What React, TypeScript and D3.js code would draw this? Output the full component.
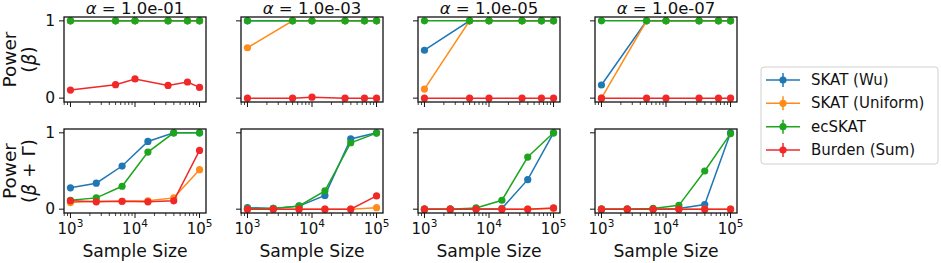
import React from "react";
import * as d3 from "d3";

const alphas = ["1.0e-01", "1.0e-03", "1.0e-05", "1.0e-07"];
const seriesNames = ["SKAT (Wu)", "SKAT (Uniform)", "ecSKAT", "Burden (Sum)"];
const seriesColors = ["#1f77b4", "#ff8c1a", "#1ea51e", "#f02828"];

const sizesTop = [1000, 5000, 10000, 32500, 65000, 100000];
const sizesBottom = [1000, 2512, 6310, 15849, 39811, 100000];

// Row 1: Power (beta)
const wuTop = [
  [1, 1, 1, 1, 1, 1],
  [1, 1, 1, 1, 1, 1],
  [0.62, 1, 1, 1, 1, 1],
  [0.17, 1, 1, 1, 1, 1],
];
const uniformTop = [
  [1, 1, 1, 1, 1, 1],
  [0.652, 1, 1, 1, 1, 1],
  [0.117, 1, 1, 1, 1, 1],
  [0.0, 1, 1, 1, 1, 1],
];
const ecTop = [
  [1, 1, 1, 1, 1, 1],
  [1, 1, 1, 1, 1, 1],
  [1, 1, 1, 1, 1, 1],
  [1, 1, 1, 1, 1, 1],
];
const burdenTop = [
  [0.104, 0.174, 0.248, 0.165, 0.209, 0.139],
  [0, 0, 0.013, 0, 0, 0],
  [0, 0, 0, 0, 0, 0],
  [0, 0, 0, 0, 0, 0],
];

// Row 2: Power (beta + Gamma)
const wuBottom = [
  [0.28, 0.34, 0.565, 0.887, 1, 1],
  [0.02, 0.01, 0.04, 0.18, 0.92, 1],
  [0, 0, 0.005, 0.01, 0.387, 1],
  [0, 0, 0, 0.01, 0.06, 1],
];
const uniformBottom = [
  [0.087, 0.104, 0.104, 0.11, 0.148, 0.517],
  [0, 0, 0, 0, 0, 0.02],
  [0, 0, 0, 0, 0, 0.01],
  [0, 0, 0, 0, 0, 0],
];
const ecBottom = [
  [0.117, 0.148, 0.3, 0.748, 1, 1],
  [0.01, 0.01, 0.043, 0.24, 0.87, 0.996],
  [0, 0, 0.017, 0.117, 0.683, 1],
  [0, 0, 0.01, 0.05, 0.5, 0.99],
];
const burdenBottom = [
  [0.11, 0.096, 0.104, 0.096, 0.11, 0.77],
  [0, 0, 0, 0, 0, 0.174],
  [0, 0, 0, 0, 0, 0.017],
  [0, 0, 0, 0, 0, 0],
];

const xTickValues = [1000, 10000, 100000];
const xTickExps = ["3", "4", "5"];
const yTickValues = [0, 1];

const W = 941;
const H = 263;
const FONT = "DejaVu Sans, sans-serif";

const panelLefts = [64, 241, 418, 595];
const panelWidth = 142;
const rows = [
  { top: 17, bottom: 102 },
  { top: 129, bottom: 213 },
];

function Panel({ col, row }: { col: number; row: number }) {
  const left = panelLefts[col];
  const right = left + panelWidth;
  const { top, bottom } = rows[row];
  const x = d3.scaleLog().domain([Math.pow(10, 2.9), Math.pow(10, 5.1)]).range([left, right]);
  const y = d3.scaleLinear().domain([-0.05, 1.05]).range([bottom, top]);
  const sizes = row === 0 ? sizesTop : sizesBottom;
  const data =
    row === 0
      ? [wuTop[col], uniformTop[col], ecTop[col], burdenTop[col]]
      : [wuBottom[col], uniformBottom[col], ecBottom[col], burdenBottom[col]];
  const line = d3
    .line<number>()
    .x((_, i) => x(sizes[i]))
    .y((v) => y(v));
  const minorTicks: number[] = [];
  for (let e = 2; e <= 5; e++) {
    for (let m = 2; m <= 9; m++) {
      const v = m * Math.pow(10, e);
      if (v > x.domain()[0] && v < x.domain()[1]) minorTicks.push(v);
    }
  }
  return (
    <g>
      <defs>
        <clipPath id={`clip-${row}-${col}`}>
          <rect x={left - 6} y={top - 6} width={panelWidth + 12} height={bottom - top + 12} />
        </clipPath>
      </defs>
      <g clipPath={`url(#clip-${row}-${col})`}>
        {data.map((vals, si) => (
          <g key={si}>
            <path d={line(vals) || ""} fill="none" stroke={seriesColors[si]} strokeWidth={1.5} />
            {vals.map((v, i) => (
              <circle key={i} cx={x(sizes[i])} cy={y(v)} r={3.6} fill={seriesColors[si]} />
            ))}
          </g>
        ))}
      </g>
      <rect x={left} y={top} width={panelWidth} height={bottom - top} fill="none" stroke="#111" strokeWidth={1.3} />
      {yTickValues.map((t) => (
        <g key={t}>
          <line x1={left - 5} x2={left} y1={y(t)} y2={y(t)} stroke="#111" strokeWidth={1} />
          {col === 0 && (
            <text x={left - 9} y={y(t)} textAnchor="end" dominantBaseline="central" fontSize={15.5} fontFamily={FONT} fill="#111">
              {t}
            </text>
          )}
        </g>
      ))}
      {minorTicks.map((t) => (
        <line key={t} x1={x(t)} x2={x(t)} y1={bottom} y2={bottom + 3} stroke="#111" strokeWidth={0.8} />
      ))}
      {xTickValues.map((t, i) => (
        <g key={t}>
          <line x1={x(t)} x2={x(t)} y1={bottom} y2={bottom + 5} stroke="#111" strokeWidth={1} />
          {row === 1 && (
            <text x={x(t)} y={bottom + 21} textAnchor="middle" fontSize={15} fontFamily={FONT} fill="#111">
              10
              <tspan dy={-7} fontSize={10.5}>
                {xTickExps[i]}
              </tspan>
            </text>
          )}
        </g>
      ))}
      {row === 0 && (
        <text x={(left + right) / 2} y={13.5} textAnchor="middle" fontSize={16.5} fontFamily={FONT} fill="#111">
          <tspan fontStyle="italic">α</tspan>
          {` = ${alphas[col]}`}
        </text>
      )}
      {row === 1 && (
        <text x={(left + right) / 2} y={257} textAnchor="middle" fontSize={17.2} fontFamily={FONT} fill="#111">
          Sample Size
        </text>
      )}
    </g>
  );
}

function YLabel({ cy, second }: { cy: number; second: React.ReactNode }) {
  return (
    <g>
      <text transform={`translate(9,${cy}) rotate(-90)`} textAnchor="middle" dominantBaseline="central" fontSize={18.5} fontFamily={FONT} fill="#111">
        Power
      </text>
      <text transform={`translate(28.5,${cy}) rotate(-90)`} textAnchor="middle" dominantBaseline="central" fontSize={18.5} fontFamily={FONT} fill="#111">
        {second}
      </text>
    </g>
  );
}

function Legend() {
  const bx = 761;
  const by = 67;
  const bw = 177;
  const bh = 97;
  const rowYs = [80, 103.3, 126.7, 150];
  return (
    <g>
      <rect x={bx} y={by} width={bw} height={bh} rx={3} fill="white" stroke="#d0d0d0" strokeWidth={1} />
      {seriesNames.map((name, i) => (
        <g key={name}>
          <line x1={766} x2={800} y1={rowYs[i]} y2={rowYs[i]} stroke={seriesColors[i]} strokeWidth={1.5} />
          <line x1={783} x2={783} y1={rowYs[i] - 7} y2={rowYs[i] + 7} stroke={seriesColors[i]} strokeWidth={1.5} />
          <circle cx={783} cy={rowYs[i]} r={3.6} fill={seriesColors[i]} />
          <text x={811} y={rowYs[i]} dominantBaseline="central" fontSize={15} fontFamily={FONT} fill="#111">
            {name}
          </text>
        </g>
      ))}
    </g>
  );
}

export default function App() {
  return (
    <svg width={W} height={H} viewBox={`0 0 ${W} ${H}`} style={{ position: "absolute", left: 0, top: 0, background: "white" }}>
      <rect width={W} height={H} fill="white" />
      {[0, 1].map((row) => alphas.map((_, col) => <Panel key={`${row}-${col}`} row={row} col={col} />))}
      <YLabel cy={59.5} second={<>(<tspan fontStyle="italic">β</tspan>)</>} />
      <YLabel cy={171} second={<>(<tspan fontStyle="italic">β</tspan> + Γ)</>} />
      <Legend />
    </svg>
  );
}
